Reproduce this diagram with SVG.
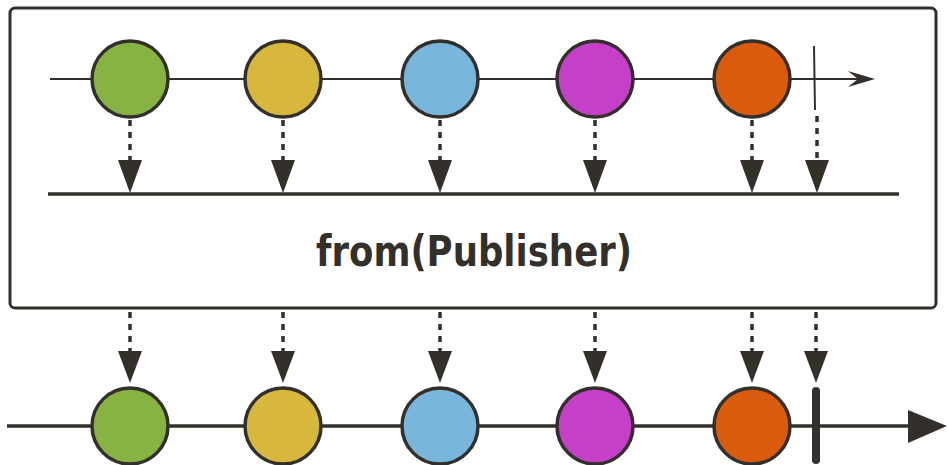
<svg xmlns="http://www.w3.org/2000/svg" width="948" height="465" viewBox="0 0 948 465">
<defs>
<style>
.ln{stroke:#33302b;fill:none}
.c{stroke:#33302b;stroke-width:3.5}
.d{stroke:#33302b;stroke-width:3.5;stroke-dasharray:6 6;fill:none}
.ah{fill:#33302b}
.lbl{font-family:"DejaVu Sans",Verdana,sans-serif;font-weight:bold;font-size:43px;fill:#33302b}
</style>
</defs>
<rect x="10" y="8" width="926" height="300" rx="5" class="ln" stroke-width="3"/>
<g id="connectors">
<line x1="50" y1="79" x2="860" y2="79" class="ln" stroke-width="2"/>
<path d="M875,79 L848,71 L858,79 L848,87 Z" class="ah"/>
<line x1="48" y1="194" x2="899" y2="194" class="ln" stroke-width="3.5"/>
<line x1="7" y1="426" x2="912" y2="426" class="ln" stroke-width="3.5"/>
<path d="M947,426 L908,410 L908,443 Z" class="ah"/>
<g>
<line x1="130" y1="120" x2="130" y2="162" class="d"/><path d="M118,160 L142,160 L130,193 Z" class="ah"/>
<line x1="283" y1="120" x2="283" y2="162" class="d"/><path d="M271,160 L295,160 L283,193 Z" class="ah"/>
<line x1="440" y1="120" x2="440" y2="162" class="d"/><path d="M428,160 L452,160 L440,193 Z" class="ah"/>
<line x1="595" y1="120" x2="595" y2="162" class="d"/><path d="M583,160 L607,160 L595,193 Z" class="ah"/>
<line x1="752" y1="120" x2="752" y2="162" class="d"/><path d="M740,160 L764,160 L752,193 Z" class="ah"/>
<line x1="817" y1="116" x2="817" y2="162" class="d"/><path d="M805,160 L829,160 L817,193 Z" class="ah"/>
</g>
<g>
<line x1="130" y1="312" x2="130" y2="354" class="d"/><path d="M118,351 L142,351 L130,383 Z" class="ah"/>
<line x1="283" y1="312" x2="283" y2="354" class="d"/><path d="M271,351 L295,351 L283,383 Z" class="ah"/>
<line x1="440" y1="312" x2="440" y2="354" class="d"/><path d="M428,351 L452,351 L440,383 Z" class="ah"/>
<line x1="595" y1="312" x2="595" y2="354" class="d"/><path d="M583,351 L607,351 L595,383 Z" class="ah"/>
<line x1="752" y1="312" x2="752" y2="354" class="d"/><path d="M740,351 L764,351 L752,383 Z" class="ah"/>
<line x1="816" y1="312" x2="816" y2="354" class="d"/><path d="M804,351 L828,351 L816,383 Z" class="ah"/>
</g>
</g>
<g id="top-green"><circle cx="130" cy="79" r="38" fill="#86b342" class="c"/></g>
<g id="top-yellow"><circle cx="283" cy="79" r="38" fill="#d7b83c" class="c"/></g>
<g id="top-blue"><circle cx="440" cy="79" r="38" fill="#79b6dc" class="c"/></g>
<g id="top-magenta"><circle cx="595" cy="79" r="38" fill="#c53fc9" class="c"/></g>
<g id="top-orange"><circle cx="752" cy="79" r="38" fill="#d95b0e" class="c"/></g>
<g id="top-complete"><line x1="814" y1="46" x2="815" y2="110" class="ln" stroke-width="2"/></g>
<g id="operator"><text x="316" y="266" textLength="316" lengthAdjust="spacingAndGlyphs" class="lbl">from(Publisher)</text></g>
<g id="bot-green"><circle cx="130" cy="426" r="38" fill="#86b342" class="c"/></g>
<g id="bot-yellow"><circle cx="283" cy="426" r="38" fill="#d7b83c" class="c"/></g>
<g id="bot-blue"><circle cx="440" cy="426" r="38" fill="#79b6dc" class="c"/></g>
<g id="bot-magenta"><circle cx="595" cy="426" r="38" fill="#c53fc9" class="c"/></g>
<g id="bot-orange"><circle cx="752" cy="426" r="38" fill="#d95b0e" class="c"/></g>
<g id="bot-complete"><line x1="816" y1="391" x2="816" y2="460" class="ln" stroke-width="8" stroke-linecap="round"/></g>
</svg>
